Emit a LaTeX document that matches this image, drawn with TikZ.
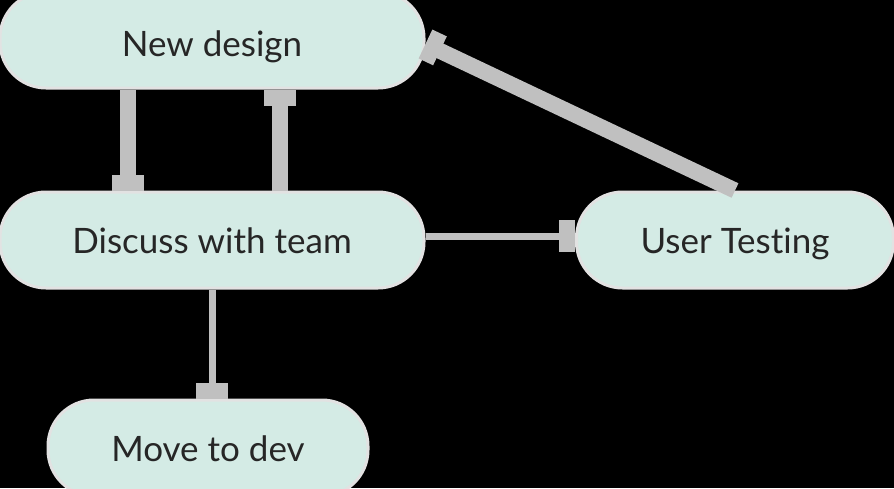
\documentclass[tikz,border=0pt]{standalone}
\usepackage{fontspec}
\setmainfont{Lato}[Ligatures={NoCommon}]
\usetikzlibrary{arrows.meta}
\definecolor{boxfill}{HTML}{D4EBE5}
\definecolor{boxline}{HTML}{E2E2E2}
\definecolor{edgecol}{HTML}{C0C0C0}
\begin{document}
\begin{tikzpicture}[x=1pt,y=-1pt,
  stage/.style={draw=boxline, line width=3pt, fill=boxfill, rounded corners=46pt,
    minimum height=96pt, inner sep=0pt, text height=27pt, text depth=0pt,
    font=\fontsize{35}{42}\selectfont, text=black!85},
  thicklink/.style={draw=edgecol, line width=16pt, -{Rectangle[length=16pt,width=32pt]}},
  thinlink/.style={draw=edgecol, line width=7pt, -{Rectangle[length=16pt,width=32pt]}}]
\useasboundingbox (0,0) rectangle (894,488);
\fill[black] (0,0) rectangle (894,488);
\clip (0,0) rectangle (894,488);
\node[stage, minimum width=424pt, text height=33pt] (nd) at (212,40) {New design};
\node[stage, minimum width=424pt] (dt) at (212,240) {Discuss with team};
\node[stage, minimum width=317pt] (ut) at (735,240) {User Testing};
\node[stage, minimum width=320pt] (mv) at (208,448) {Move to dev};
\draw[thicklink] ([xshift=-84pt]nd.south) -- ([xshift=-84pt]dt.north);
\draw[thicklink] ([xshift=68pt]dt.north) -- ([xshift=68pt]nd.south);
\draw[thicklink] (ut.north) -- ([yshift=-4pt]nd.east);
\draw[thinlink] ([yshift=4pt]dt.east) -- ([yshift=4pt]ut.west);
\draw[thinlink] (dt.south) -- (dt.south |- mv.north);
\end{tikzpicture}
\end{document}
